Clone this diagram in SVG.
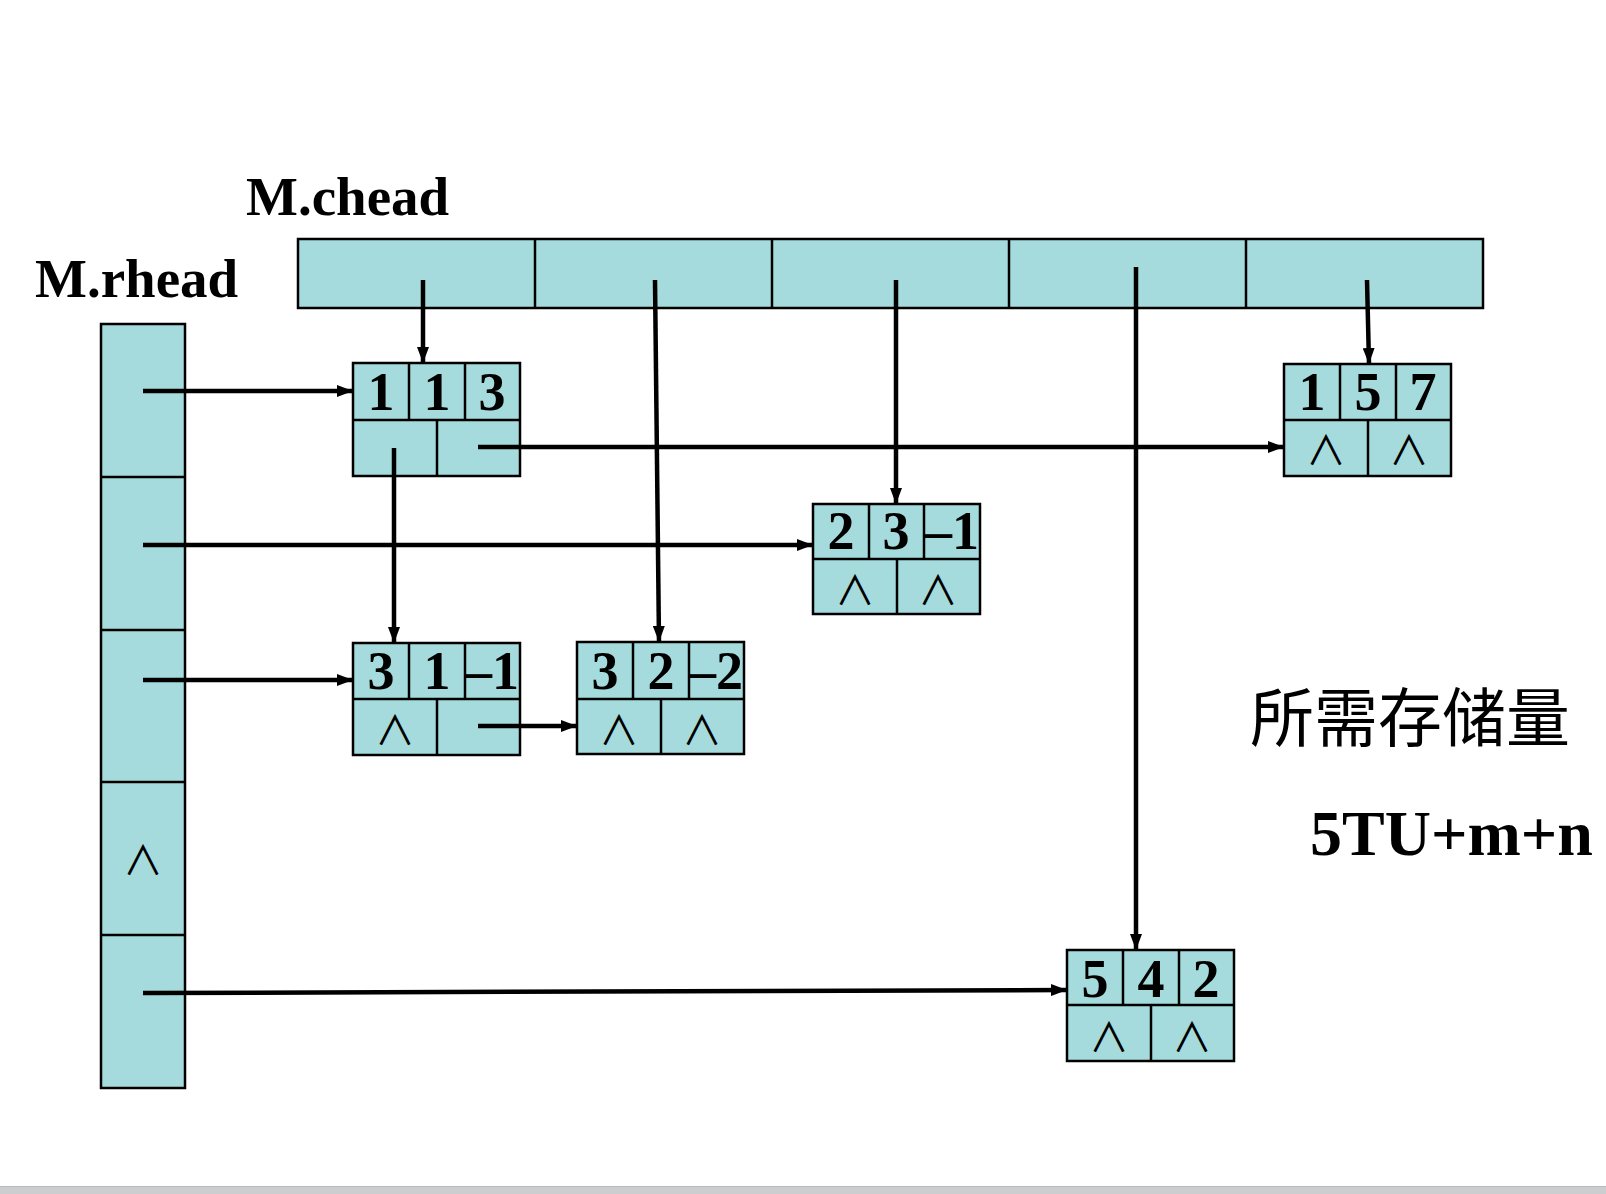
<svg xmlns="http://www.w3.org/2000/svg" width="1606" height="1194" viewBox="0 0 1606 1194">
<defs>
<style>
.cell{fill:#a5dbdc;stroke:#000;stroke-width:2.5}
.div{stroke:#000;stroke-width:2.5}
.num{font-family:"Liberation Serif","Times New Roman",serif;font-weight:bold;font-size:54px;text-anchor:middle;fill:#000}
.nil{font-family:"Noto Sans CJK SC","DejaVu Sans",sans-serif;font-weight:400;font-size:40px;text-anchor:middle;fill:#000}
.lbl{font-family:"Liberation Serif","Times New Roman",serif;font-weight:bold;font-size:55px;fill:#000}
.cn{font-family:"Noto Sans CJK SC",sans-serif;font-size:64px;fill:#000}
.con{stroke:#000;stroke-width:4.5;fill:none;marker-end:url(#ah)}
</style>
<marker id="ah" markerUnits="userSpaceOnUse" markerWidth="16" markerHeight="12" refX="16" refY="6" orient="auto">
<path d="M0,0 L16,6 L0,12 z" fill="#000"/>
</marker>
</defs>
<rect x="0" y="0" width="1606" height="1194" fill="#fff"/>
<rect x="0" y="1186" width="1606" height="8" fill="#cbcdcf"/>
<line x1="0" y1="1186.5" x2="1606" y2="1186.5" stroke="#b9b9b9" stroke-width="1"/>

<g id="label-chead"><text class="lbl" x="246" y="215">M.chead</text></g>
<g id="label-rhead"><text class="lbl" x="35" y="297">M.rhead</text></g>

<g id="chead">
<rect class="cell" x="298" y="239" width="1185" height="69"/>
<line class="div" x1="535" y1="239" x2="535" y2="308"/>
<line class="div" x1="772" y1="239" x2="772" y2="308"/>
<line class="div" x1="1009" y1="239" x2="1009" y2="308"/>
<line class="div" x1="1246" y1="239" x2="1246" y2="308"/>
</g>

<g id="rhead">
<rect class="cell" x="101" y="324" width="84" height="764"/>
<line class="div" x1="101" y1="477" x2="185" y2="477"/>
<line class="div" x1="101" y1="630" x2="185" y2="630"/>
<line class="div" x1="101" y1="782" x2="185" y2="782"/>
<line class="div" x1="101" y1="935" x2="185" y2="935"/>
<text class="nil" x="143" y="875">∧</text>
</g>

<g id="node-113">
<rect class="cell" x="353" y="363" width="167" height="113"/>
<line class="div" x1="353" y1="420" x2="520" y2="420"/>
<line class="div" x1="409" y1="363" x2="409" y2="420"/>
<line class="div" x1="465" y1="363" x2="465" y2="420"/>
<line class="div" x1="437" y1="420" x2="437" y2="476"/>
<text class="num" x="381" y="410">1</text>
<text class="num" x="437" y="410">1</text>
<text class="num" x="492" y="410">3</text>
</g>

<g id="node-157">
<rect class="cell" x="1284" y="364" width="167" height="112"/>
<line class="div" x1="1284" y1="420" x2="1451" y2="420"/>
<line class="div" x1="1340" y1="364" x2="1340" y2="420"/>
<line class="div" x1="1396" y1="364" x2="1396" y2="420"/>
<line class="div" x1="1368" y1="420" x2="1368" y2="476"/>
<text class="num" x="1312" y="410">1</text>
<text class="num" x="1368" y="410">5</text>
<text class="num" x="1423" y="410">7</text>
<text class="nil" x="1326" y="465">∧</text>
<text class="nil" x="1409" y="465">∧</text>
</g>

<g id="node-23m1">
<rect class="cell" x="813" y="504" width="167" height="110"/>
<line class="div" x1="813" y1="559" x2="980" y2="559"/>
<line class="div" x1="869" y1="504" x2="869" y2="559"/>
<line class="div" x1="924" y1="504" x2="924" y2="559"/>
<line class="div" x1="897" y1="559" x2="897" y2="614"/>
<text class="num" x="841" y="549">2</text>
<text class="num" x="896" y="549">3</text>
<text class="num" x="952" y="549">–1</text>
<text class="nil" x="855" y="605">∧</text>
<text class="nil" x="938" y="605">∧</text>
</g>

<g id="node-31m1">
<rect class="cell" x="353" y="643" width="167" height="112"/>
<line class="div" x1="353" y1="699" x2="520" y2="699"/>
<line class="div" x1="409" y1="643" x2="409" y2="699"/>
<line class="div" x1="465" y1="643" x2="465" y2="699"/>
<line class="div" x1="437" y1="699" x2="437" y2="755"/>
<text class="num" x="381" y="689">3</text>
<text class="num" x="437" y="689">1</text>
<text class="num" x="492" y="689">–1</text>
<text class="nil" x="395" y="745">∧</text>
</g>

<g id="node-32m2">
<rect class="cell" x="577" y="642" width="167" height="112"/>
<line class="div" x1="577" y1="699" x2="744" y2="699"/>
<line class="div" x1="633" y1="642" x2="633" y2="699"/>
<line class="div" x1="689" y1="642" x2="689" y2="699"/>
<line class="div" x1="661" y1="699" x2="661" y2="754"/>
<text class="num" x="605" y="689">3</text>
<text class="num" x="661" y="689">2</text>
<text class="num" x="716" y="689">–2</text>
<text class="nil" x="619" y="745">∧</text>
<text class="nil" x="702" y="745">∧</text>
</g>

<g id="node-542">
<rect class="cell" x="1067" y="950" width="167" height="111"/>
<line class="div" x1="1067" y1="1005" x2="1234" y2="1005"/>
<line class="div" x1="1123" y1="950" x2="1123" y2="1005"/>
<line class="div" x1="1179" y1="950" x2="1179" y2="1005"/>
<line class="div" x1="1151" y1="1005" x2="1151" y2="1061"/>
<text class="num" x="1095" y="997">5</text>
<text class="num" x="1151" y="997">4</text>
<text class="num" x="1206" y="997">2</text>
<text class="nil" x="1109" y="1052">∧</text>
<text class="nil" x="1192" y="1052">∧</text>
</g>

<g id="connectors">
<line class="con" x1="143" y1="391" x2="353" y2="391"/>
<line class="con" x1="143" y1="545" x2="813" y2="545"/>
<line class="con" x1="143" y1="680" x2="353" y2="680"/>
<line class="con" x1="143" y1="993" x2="1067" y2="990"/>
<line class="con" x1="478" y1="447" x2="1284" y2="447"/>
<line class="con" x1="394" y1="448" x2="394" y2="643"/>
<line class="con" x1="478" y1="726" x2="577" y2="726"/>
<line class="con" x1="423" y1="280" x2="423" y2="363"/>
<line class="con" x1="655" y1="280" x2="659" y2="642"/>
<line class="con" x1="896" y1="280" x2="896" y2="504"/>
<line class="con" x1="1136" y1="267" x2="1136" y2="950"/>
<line class="con" x1="1367" y1="280" x2="1369" y2="364"/>
</g>

<g id="storage">
<text class="cn" x="1250" y="741">所需存储量</text>
<text class="lbl" x="1310" y="855" style="font-size:64px">5TU+m+n</text>
</g>
</svg>
